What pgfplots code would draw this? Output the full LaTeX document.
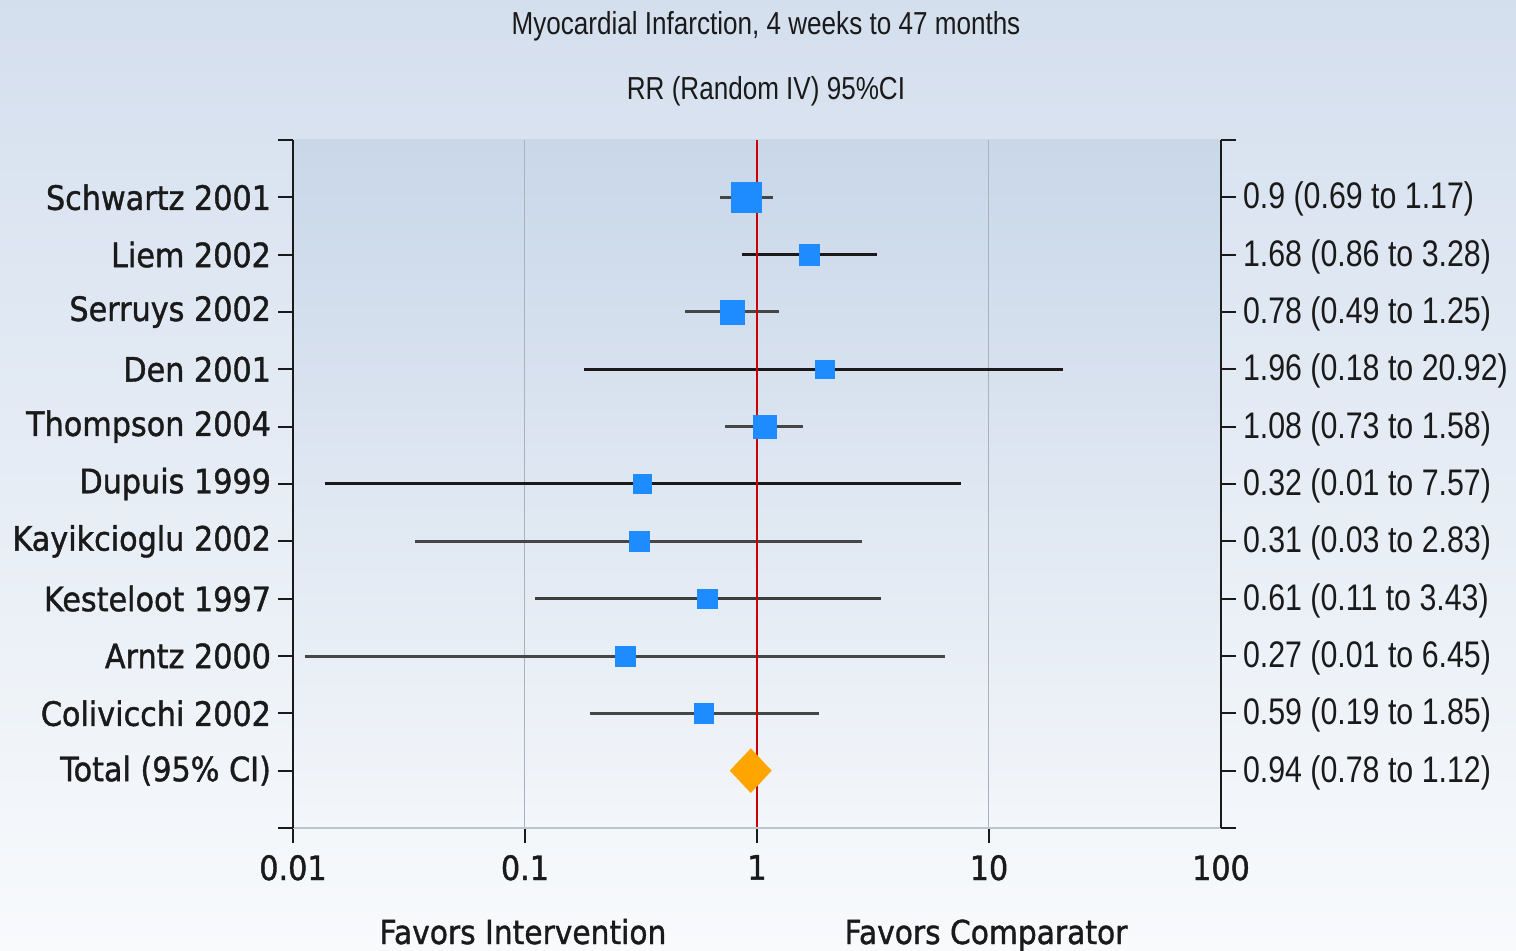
\documentclass[border=0pt]{standalone}
\usepackage{fontspec}
\usepackage{pgfplots}
\pgfplotsset{compat=1.18}
\setmainfont{DejaVu Sans}
\newfontfamily\tah[FakeStretch=0.9,FakeBold=1.2]{DejaVu Sans}
\newfontfamily\nar[FakeStretch=0.82]{Liberation Sans}
\definecolor{bgtop}{HTML}{D4DFEE}
\definecolor{bgbot}{HTML}{F8FAFC}
\definecolor{patop}{HTML}{C9D7E9}
\definecolor{pabot}{HTML}{F3F6FA}
\definecolor{mblue}{HTML}{1E8CFF}
\definecolor{morange}{HTML}{FFA500}
\definecolor{ired}{HTML}{CC0000}
\definecolor{cigray}{HTML}{464646}
\definecolor{ciblack}{HTML}{1A1A1A}
\definecolor{gridc}{HTML}{A9B2BC}
\definecolor{botline}{HTML}{BFC5CC}
\definecolor{txt}{HTML}{1A1A1A}
\begin{document}
\begin{tikzpicture}
\begin{scope}[x=0.5pt,y=-0.5pt]
\shade[top color=bgtop,bottom color=bgbot] (0,0) rectangle (1516,951);
\useasboundingbox (0,0) rectangle (1516,951);
\shade[top color=patop,bottom color=pabot] (293,140) rectangle (1221,828);
\node[font=\nar\fontsize{15.9}{18}\selectfont, text=txt] at (766,26) {Myocardial Infarction, 4 weeks to 47 months};
\node[font=\nar\fontsize{15.9}{18}\selectfont, text=txt] at (766,91) {RR (Random IV) 95\%CI};
\node[font=\tah\fontsize{16.5}{19}\selectfont, text=txt, anchor=base] at (523,944) {Favors Intervention};
\node[font=\tah\fontsize{16.5}{19}\selectfont, text=txt, anchor=base] at (986,944) {Favors Comparator};
\end{scope}
\begin{axis}[
  at={(146.5pt,-414pt)}, anchor=south west,
  scale only axis, width=464pt, height=344pt,
  xmode=log, xmin=0.01, xmax=100, ymin=0, ymax=12,
  axis line style={draw=none},
  xtick={0.01,0.1,1,10}, xticklabels={0.01,0.1,1,10},
  extra x ticks={100}, extra x tick labels={100},
  extra x tick style={grid=none, major tick style={draw=none}},
  xminorticks=false,
  tick pos=left, tick align=outside,
  major tick length=7.5pt,
  tick style={txt, line width=1pt},
  xmajorgrids, grid style={gridc, line width=0.5pt},
  ytick={0,...,12},
  yticklabels={{},Total (95\% CI),Colivicchi 2002,Arntz 2000,Kesteloot 1997,Kayikcioglu 2002,Dupuis 1999,Thompson 2004,Den 2001,Serruys 2002,Liem 2002,Schwartz 2001,{}},
  yticklabel style={font=\tah\fontsize{16.8}{19}\selectfont, text=txt},
  xticklabel style={font=\tah\fontsize{16.8}{19}\selectfont, text=txt, yshift=-2.5pt},
  clip=false,
]
% confidence intervals
\addplot[cigray, line width=1.5pt] coordinates {(0.69,11) (1.17,11)};
\addplot[ciblack, line width=1.5pt] coordinates {(0.86,10) (3.28,10)};
\addplot[cigray, line width=1.5pt] coordinates {(0.49,9) (1.25,9)};
\addplot[ciblack, line width=1.5pt] coordinates {(0.18,8) (20.92,8)};
\addplot[cigray, line width=1.5pt] coordinates {(0.73,7) (1.58,7)};
\addplot[ciblack, line width=1.5pt] coordinates {(0.0137,6) (7.57,6)};
\addplot[cigray, line width=1.5pt] coordinates {(0.0336,5) (2.83,5)};
\addplot[ciblack!85, line width=1.5pt] coordinates {(0.11,4) (3.43,4)};
\addplot[cigray, line width=1.5pt] coordinates {(0.0113,3) (6.45,3)};
\addplot[cigray, line width=1.5pt] coordinates {(0.19,2) (1.85,2)};
% point estimates
\addplot[only marks, mblue, mark=square*, mark size=7.6pt, mark options={line width=0.2pt, fill=mblue, draw=mblue}] coordinates {(0.9,11)};
\addplot[only marks, mblue, mark=square*, mark size=5.1pt, mark options={line width=0.2pt, fill=mblue, draw=mblue}] coordinates {(1.68,10)};
\addplot[only marks, mblue, mark=square*, mark size=5.9pt, mark options={line width=0.2pt, fill=mblue, draw=mblue}] coordinates {(0.78,9)};
\addplot[only marks, mblue, mark=square*, mark size=4.65pt, mark options={line width=0.2pt, fill=mblue, draw=mblue}] coordinates {(1.96,8)};
\addplot[only marks, mblue, mark=square*, mark size=5.9pt, mark options={line width=0.2pt, fill=mblue, draw=mblue}] coordinates {(1.08,7)};
\addplot[only marks, mblue, mark=square*, mark size=4.65pt, mark options={line width=0.2pt, fill=mblue, draw=mblue}] coordinates {(0.32,6)};
\addplot[only marks, mblue, mark=square*, mark size=4.9pt, mark options={line width=0.2pt, fill=mblue, draw=mblue}] coordinates {(0.31,5)};
\addplot[only marks, mblue, mark=square*, mark size=4.8pt, mark options={line width=0.2pt, fill=mblue, draw=mblue}] coordinates {(0.61,4)};
\addplot[only marks, mblue, mark=square*, mark size=4.9pt, mark options={line width=0.2pt, fill=mblue, draw=mblue}] coordinates {(0.27,3)};
\addplot[only marks, mblue, mark=square*, mark size=4.9pt, mark options={line width=0.2pt, fill=mblue, draw=mblue}] coordinates {(0.59,2)};
\addplot[only marks, morange, mark=diamond*, mark size=11pt, mark options={line width=0.2pt, fill=morange, draw=morange, xscale=1.25}] coordinates {(0.94,1)};
% line of no effect
\addplot[ired, line width=1pt] coordinates {(1,0) (1,12)};
% axis lines
\draw[botline, line width=1pt] (rel axis cs:0,0) -- (rel axis cs:1,0);
\draw[txt, line width=1pt] (rel axis cs:0,0) -- (rel axis cs:0,1);
\draw[txt, line width=1pt] (rel axis cs:1,0) -- (rel axis cs:1,1);
\end{axis}
\begin{axis}[
  at={(146.5pt,-414pt)}, anchor=south west,
  scale only axis, width=464pt, height=344pt,
  xmode=log, xmin=0.01, xmax=100, ymin=0, ymax=12,
  axis line style={draw=none},
  xtick=\empty, xminorticks=false,
  ytick={0,...,12}, ytick pos=right, yticklabel pos=right,
  tick align=outside, major tick length=7.5pt,
  tick style={txt, line width=1pt},
  yticklabels={{},0.94 (0.78 to 1.12),0.59 (0.19 to 1.85),0.27 (0.01 to 6.45),0.61 (0.11 to 3.43),0.31 (0.03 to 2.83),0.32 (0.01 to 7.57),1.08 (0.73 to 1.58),1.96 (0.18 to 20.92),0.78 (0.49 to 1.25),1.68 (0.86 to 3.28),0.9 (0.69 to 1.17),{}},
  yticklabel style={font=\nar\fontsize{18.5}{20}\selectfont, text=txt, yshift=-1pt},
]
\end{axis}
\end{tikzpicture}
\end{document}
